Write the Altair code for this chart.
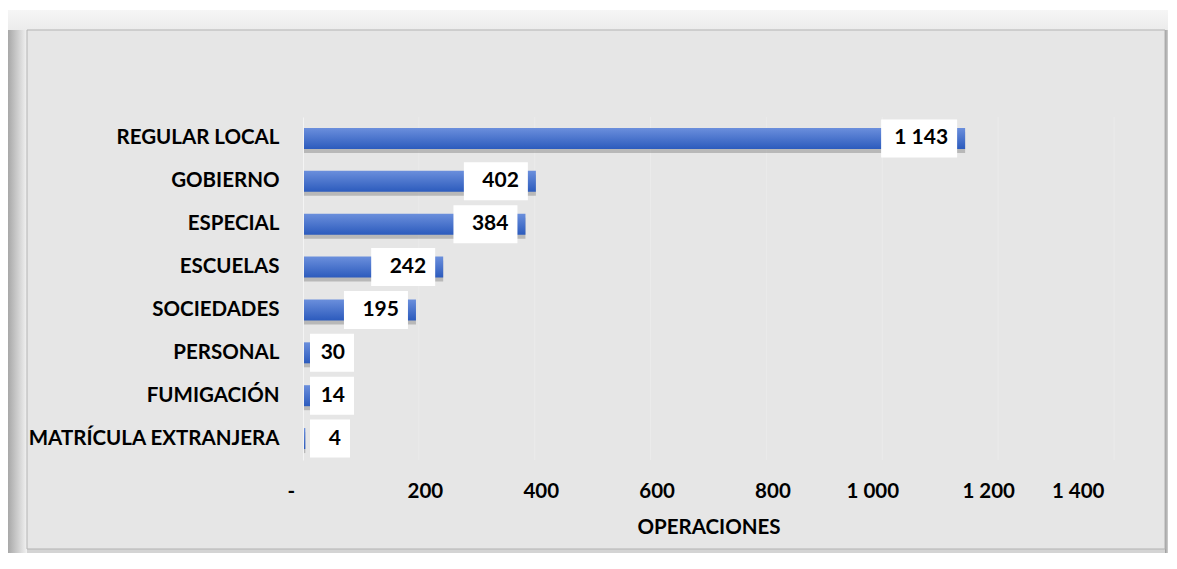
import altair as alt
import pandas as pd

categories = ["REGULAR LOCAL", "GOBIERNO", "ESPECIAL", "ESCUELAS", "SOCIEDADES",
              "PERSONAL", "FUMIGACIÓN", "MATRÍCULA EXTRANJERA"]
values = [1143, 402, 384, 242, 195, 30, 14, 4]
x_ticks = [0, 200, 400, 600, 800, 1000, 1200, 1400]

FONT = "Lato"
W, H = 811, 343
PAD = {"left": 295, "top": 109, "right": 54, "bottom": 93}
upx = 1400 / W  # data units per pixel

labels = [f"{v:,}".replace(",", " ") for v in values]
box_w = {1: 40, 2: 44, 3: 64, 4: 76}
box_l, box_r = [], []
for v in values:
    w = box_w[len(str(v))] * upx
    r = v - 8 * upx
    l = r - w
    if l < 7 * upx:
        l = 7 * upx
        r = l + w
    box_l.append(l)
    box_r.append(r)

df = pd.DataFrame({"cat": categories, "val": values, "lab": labels,
                   "bl": box_l, "br": box_r})
ticks_df = pd.DataFrame({"t": x_ticks[1:]})
one = pd.DataFrame({"k": [0]})

def px(v):
    return alt.value(v)

def frame_rect(x0, y0, x1, y1, fill, stroke=None):
    kw = {"fill": fill}
    if stroke:
        kw["stroke"] = stroke
        kw["strokeWidth"] = 1
    return alt.Chart(one).mark_rect(**kw).encode(
        x=px(x0 - PAD["left"]), x2=px(x1 - PAD["left"]),
        y=px(y0 - PAD["top"]), y2=px(y1 - PAD["top"]))

def grad(c0, c1, horizontal):
    return alt.LinearGradient(
        gradient="linear",
        stops=[alt.GradientStop(color=c0, offset=0), alt.GradientStop(color=c1, offset=1)],
        x1=0, y1=0, x2=1 if horizontal else 0, y2=0 if horizontal else 1)

outer = frame_rect(0, 2, 1160, 545, "#d4d4d4")
left_band = frame_rect(0, 2, 19, 545, grad("#a8a8a8", "#f2f2f2", True))
top_band = frame_rect(0, 2, 1160, 22, grad("#f6f6f6", "#ececec", False))
right_band = frame_rect(1157, 22, 1160, 545, grad("#9a9a9a", "#d0d0d0", True))
inner = frame_rect(19, 22, 1157, 541, "#e6e6e6", stroke="#b3b3b3")

base = alt.Chart(df)
xs = alt.Scale(domain=[0, 1400], nice=False, zero=True)
ys = alt.Scale(paddingInner=0.0, paddingOuter=0.0)

grid = alt.Chart(ticks_df).mark_rule(color="#ebebeb", strokeWidth=1).encode(
    x=alt.X("t:Q", scale=xs), y=alt.value(0), y2=alt.value(H))

shadow = base.mark_bar(size=21, color="#808080", opacity=0.45, yOffset=4, x2Offset=3).encode(
    x=alt.X("val:Q", scale=xs),
    y=alt.Y("cat:N", sort=categories, scale=ys),
)

label_expr = "datum.value == 0 ? '-' : replace(format(datum.value, ','), ',', ' ')"
label_offset = {
    "condition": [
        {"test": "datum.value == 0", "value": -16},
        {"test": "datum.value >= 1000", "value": -10},
    ],
    "value": 6,
}

bars = base.mark_bar(
    size=21,
    color=grad("#6b8fdc", "#2c5bbd", False),
).encode(
    x=alt.X("val:Q", scale=xs,
            axis=alt.Axis(values=x_ticks, title="OPERACIONES", zindex=1,
                          labelExpr=label_expr, labelOffset=label_offset,
                          labelFont=FONT, labelFontSize=20.5, labelFontWeight="bold", labelColor="#000000",
                          titleFont=FONT, titleFontSize=20.5, titleFontWeight="bold", titleColor="#000000",
                          labelPadding=21, titlePadding=16, ticks=False, domain=False, grid=False)),
    y=alt.Y("cat:N", sort=categories, scale=ys,
            axis=alt.Axis(title=None, labelFont=FONT, labelFontSize=20.5, labelFontWeight="bold", zindex=1,
                          labelColor="#000000", labelPadding=24, labelLimit=0, ticks=False,
                          domain=True, domainColor="#f4f4f4", domainWidth=1, grid=False)),
)

boxes = base.mark_bar(size=38, color="#ffffff").encode(
    x=alt.X("bl:Q", scale=xs), x2="br:Q",
    y=alt.Y("cat:N", sort=categories, scale=ys),
)

texts = base.mark_text(align="right", baseline="middle", dx=-9, font=FONT, fontSize=21,
                       fontWeight="bold", color="#000000").encode(
    x=alt.X("br:Q", scale=xs),
    y=alt.Y("cat:N", sort=categories, scale=ys),
    text="lab:N",
)

chart = alt.layer(outer, left_band, top_band, right_band, inner, grid,
                  shadow, bars, boxes, texts).properties(
    width=W, height=H, padding=PAD,
    autosize=alt.AutoSizeParams(type="none"),
    background="#ffffff",
).configure_view(stroke=None)

chart.save("out.html", embed_options={"renderer": "svg", "actions": False})
